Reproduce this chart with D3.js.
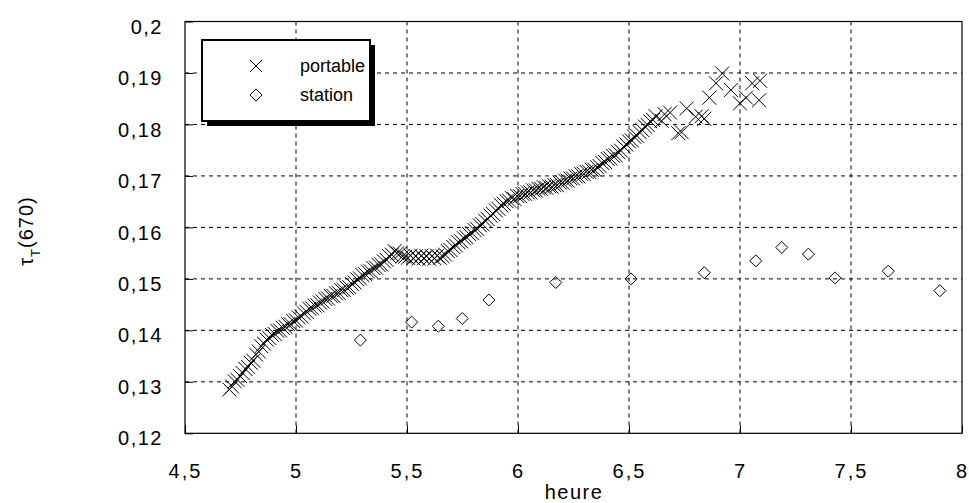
<!DOCTYPE html>
<html><head><meta charset="utf-8">
<script src="https://cdn.jsdelivr.net/npm/d3@7"></script>
<style>
body{margin:0;background:#fff}
text{font-family:"Liberation Sans",Arial,sans-serif;fill:#000}
</style>
</head><body>
<svg id="c" width="969" height="503"></svg>
<script>
const xTicks=[4.5,5,5.5,6,6.5,7,7.5,8];
const yTicks=[0.12,0.13,0.14,0.15,0.16,0.17,0.18,0.19,0.2];
const xLabel="heure";
const seriesNames=["portable","station"];

const portableHeure=[4.700,4.712,4.724,4.736,4.748,4.760,4.772,4.784,4.796,4.808,4.820,4.832,4.844,4.856,4.868,4.880,4.892,4.904,4.916,4.928,4.940,4.952,4.964,4.976,4.988,5.000,5.012,5.024,5.036,5.048,5.060,5.072,5.084,5.096,5.108,5.120,5.132,5.144,5.156,5.168,5.180,5.192,5.204,5.216,5.228,5.240,5.252,5.264,5.276,5.288,5.300,5.312,5.324,5.336,5.348,5.360,5.372,5.384,5.396,5.408,5.420,5.432,5.444,5.456,5.468,5.480,5.492,5.504,5.516,5.528,5.540,5.552,5.564,5.576,5.588,5.600,5.612,5.624,5.636,5.648,5.660,5.672,5.684,5.696,5.708,5.720,5.732,5.744,5.756,5.768,5.780,5.792,5.804,5.816,5.828,5.840,5.852,5.864,5.876,5.888,5.900,5.912,5.924,5.936,5.948,5.960,5.972,5.984,5.996,6.008,6.020,6.032,6.044,6.056,6.068,6.080,6.092,6.104,6.116,6.128,6.140,6.152,6.164,6.176,6.188,6.200,6.212,6.224,6.236,6.248,6.260,6.272,6.284,6.296,6.308,6.320,6.332,6.344,6.356,6.368,6.380,6.392,6.404,6.416,6.428,6.440,6.452,6.464,6.476,6.488,6.500,6.512,6.524,6.536,6.548,6.560,6.572,6.584,6.596,6.608,6.620,6.647,6.660,6.685,6.722,6.737,6.760,6.800,6.827,6.839,6.862,6.892,6.920,6.959,7.000,7.027,7.055,7.086,7.090];
const portableTau=[0.1285,0.1291,0.1301,0.1304,0.1311,0.1317,0.1325,0.1329,0.1337,0.1341,0.1353,0.1359,0.1369,0.1374,0.1382,0.1385,0.1391,0.1393,0.1399,0.1400,0.1405,0.1407,0.1412,0.1412,0.1418,0.1419,0.1425,0.1427,0.1433,0.1436,0.1442,0.1443,0.1448,0.1449,0.1454,0.1456,0.1461,0.1462,0.1467,0.1467,0.1472,0.1473,0.1478,0.1478,0.1483,0.1484,0.1490,0.1493,0.1499,0.1501,0.1507,0.1509,0.1514,0.1515,0.1521,0.1522,0.1527,0.1528,0.1534,0.1537,0.1544,0.1547,0.1554,0.1550,0.1549,0.1544,0.1543,0.1541,0.1545,0.1540,0.1544,0.1539,0.1545,0.1540,0.1544,0.1539,0.1544,0.1540,0.1545,0.1541,0.1544,0.1547,0.1554,0.1556,0.1562,0.1565,0.1571,0.1573,0.1579,0.1581,0.1587,0.1589,0.1595,0.1597,0.1604,0.1606,0.1613,0.1616,0.1623,0.1626,0.1633,0.1636,0.1643,0.1646,0.1651,0.1652,0.1657,0.1655,0.1661,0.1661,0.1665,0.1665,0.1668,0.1668,0.1672,0.1672,0.1675,0.1675,0.1678,0.1677,0.1680,0.1679,0.1682,0.1682,0.1687,0.1687,0.1691,0.1691,0.1695,0.1695,0.1699,0.1699,0.1704,0.1704,0.1708,0.1708,0.1712,0.1712,0.1717,0.1719,0.1725,0.1727,0.1733,0.1734,0.1739,0.1740,0.1746,0.1749,0.1757,0.1761,0.1767,0.1769,0.1776,0.1778,0.1785,0.1789,0.1796,0.1799,0.1806,0.1809,0.1816,0.1807,0.1820,0.1823,0.1783,0.1785,0.1831,0.1815,0.1816,0.1811,0.1852,0.1880,0.1899,0.1867,0.1841,0.1852,0.1880,0.1847,0.1885];

const stationHeure=[5.290,5.521,5.641,5.749,5.869,6.170,6.509,6.839,7.071,7.188,7.308,7.428,7.668,7.900];
const stationTau=[0.1381,0.1416,0.1408,0.1423,0.1459,0.1493,0.1500,0.1512,0.1535,0.1561,0.1548,0.1502,0.1515,0.1477];

const fmt=d=>String(+d.toFixed(2)).replace(".",",");
const svg=d3.select("#c");
const L=185,R=962,T=21.5,B=433.3;
const x=d3.scaleLinear().domain([4.5,8]).range([L,R]);
const y=d3.scaleLinear().domain([0.12,0.2]).range([B,T]);

// gridlines
const g=svg.append("g");
g.selectAll("line.gx").data(xTicks.slice(1,-1)).join("line")
 .attr("x1",d=>x(d)).attr("x2",d=>x(d)).attr("y1",T).attr("y2",B)
 .attr("stroke","#000").attr("stroke-width",1).attr("stroke-dasharray","4,4");
g.selectAll("line.gy").data(yTicks.slice(1,-1)).join("line")
 .attr("x1",L).attr("x2",R).attr("y1",d=>y(d)).attr("y2",d=>y(d))
 .attr("stroke","#000").attr("stroke-width",1).attr("stroke-dasharray","4,4");

// axes (inward ticks)
const ax=svg.append("g").attr("transform",`translate(0,${B})`)
 .call(d3.axisBottom(x).tickValues(xTicks).tickSize(-8).tickSizeOuter(0).tickFormat(fmt));
ax.select(".domain").remove();
ax.selectAll("text").attr("y",45).attr("dy",0).style("font-size","20px").style("letter-spacing","2px");
const ay=svg.append("g").attr("transform",`translate(${L},0)`)
 .call(d3.axisLeft(y).tickValues(yTicks).tickSize(-8).tickSizeOuter(0).tickFormat(fmt));
ay.select(".domain").remove();
ay.selectAll("text").attr("x",-22).attr("dy","0.58em").style("font-size","20px").style("letter-spacing","1.5px");

// frame
svg.append("rect").attr("x",L).attr("y",T).attr("width",R-L).attr("height",B-T)
 .attr("fill","none").attr("stroke","#000").attr("stroke-width",1.2);

// station diamonds
const st=stationHeure.map((h,i)=>({h,t:stationTau[i]}));
svg.append("g").selectAll("path").data(st).join("path")
 .attr("transform",d=>`translate(${x(d.h)},${y(d.t)})`)
 .attr("d","M0,-6L6,0L0,6L-6,0Z").attr("fill","none").attr("stroke","#000").attr("stroke-width",1);

// portable crosses
const pt=portableHeure.map((h,i)=>({h,t:portableTau[i]}));
svg.append("g").selectAll("path").data(pt).join("path")
 .attr("transform",d=>`translate(${x(d.h)},${y(d.t)})`)
 .attr("d","M-7,-7L7,7M7,-7L-7,7").attr("fill","none").attr("stroke","#000").attr("stroke-width",1);

// legend
const lg=svg.append("g");
lg.append("rect").attr("x",207).attr("y",45).attr("width",168).attr("height",81).attr("fill","#000");
lg.append("rect").attr("x",202).attr("y",40).attr("width",168).attr("height",81)
 .attr("fill","#fff").attr("stroke","#000").attr("stroke-width",2);
lg.append("path").attr("transform","translate(256,66)").attr("d","M-6,-6L6,6M6,-6L-6,6").attr("stroke","#000").attr("fill","none");
lg.append("path").attr("transform","translate(256,95)").attr("d","M0,-6L6,0L0,6L-6,0Z").attr("stroke","#000").attr("fill","none");
lg.append("text").attr("x",300).attr("y",72).style("font-size","18px").text(seriesNames[0]);
lg.append("text").attr("x",300).attr("y",101).style("font-size","18px").text(seriesNames[1]);

// axis titles
svg.append("text").attr("x",574).attr("y",499).attr("text-anchor","middle")
 .style("font-size","20px").style("letter-spacing","1.5px").text(xLabel);
const yl=svg.append("text").attr("transform","translate(33,231) rotate(-90)").attr("text-anchor","middle")
 .style("font-size","20px").style("letter-spacing","1px");
yl.append("tspan").text("τ");
yl.append("tspan").attr("dy",7).style("font-size","13px").text("T");
yl.append("tspan").attr("dy",-7).text("(670)");
</script>
</body></html>
